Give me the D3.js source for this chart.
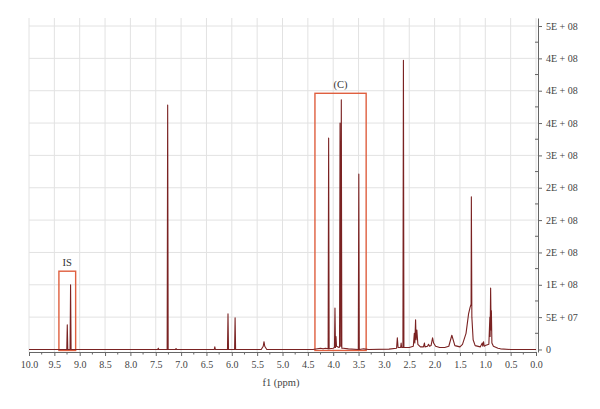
<!DOCTYPE html>
<html><head><meta charset="utf-8">
<script src="https://cdn.jsdelivr.net/npm/d3@7"></script>
<style>body{margin:0;background:#fff}svg{display:block}</style>
</head><body>
<svg id="c" width="600" height="409"></svg>
<script>
// Spectrum points: chemical shift (ppm) and intensity (x1e8)
const ppm = [10.0,9.6,9.255,9.245,9.235,9.19,9.18,9.17,8.6,8.2,7.46,7.45,7.44,7.275,7.265,7.255,7.11,7.10,7.09,6.345,6.335,6.325,6.085,6.075,6.065,5.945,5.935,5.925,5.42,5.38,5.365,5.35,5.31,4.40,4.25,4.2,4.15,4.10,4.09,4.08,4.0,3.975,3.965,3.955,3.945,3.935,3.885,3.875,3.865,3.85,3.84,3.83,3.80,3.7,3.505,3.495,3.485,3.4,3.3,2.9,2.75,2.735,2.72,2.67,2.66,2.65,2.625,2.615,2.605,2.5,2.42,2.40,2.39,2.375,2.365,2.35,2.33,2.28,2.22,2.20,2.19,2.14,2.12,2.10,2.07,2.04,2.02,1.98,1.90,1.80,1.72,1.66,1.60,1.50,1.45,1.38,1.33,1.30,1.28,1.275,1.265,1.24,1.20,1.10,1.06,1.05,1.035,1.02,1.0,0.93,0.91,0.905,0.895,0.885,0.88,0.87,0.84,0.75,0.70,0.5,0.0];
const intensity = [0,0,0,0.38,0,0,1.0,0,0,0,0,0.02,0,0,3.78,0,0,0.015,0,0,0.04,0,0,0.55,0,0,0.49,0,0,0.05,0.12,0.05,0,0,0.02,0.01,0.02,0.01,3.27,0.01,0.02,0.03,0.64,0.03,0.2,0.05,0.03,0.04,3.5,0.05,3.86,0.02,0.02,0.01,0,2.71,0,0.01,0,0.005,0.02,0.18,0.03,0.03,0.1,0.03,0.03,4.47,0.03,0.03,0.05,0.25,0.1,0.46,0.15,0.3,0.08,0.04,0.04,0.1,0.04,0.05,0.08,0.05,0.06,0.18,0.1,0.05,0.03,0.03,0.05,0.22,0.06,0.04,0.08,0.25,0.55,0.65,0.7,2.36,0.5,0.15,0.06,0.04,0.1,0.05,0.12,0.05,0.06,0.08,0.5,0.2,0.95,0.3,0.6,0.1,0.05,0.02,0.01,0,0];

const xTicks = [10.0,9.5,9.0,8.5,8.0,7.5,7.0,6.5,6.0,5.5,5.0,4.5,4.0,3.5,3.0,2.5,2.0,1.5,1.0,0.5,0.0];
const yTicks = [0,0.5,1.0,1.5,2.0,2.5,3.0,3.5,4.0,4.5,5.0];
const yTickLabels = ["0","5E + 07","1E + 08","2E + 08","2E + 08","2E + 08","3E + 08","4E + 08","4E + 08","4E + 08","5E + 08"];
const boxes = [
  {label:"IS", from:9.41, to:9.08, top:1.21},
  {label:"(C)", from:4.36, to:3.35, top:3.96}
];

const svg = d3.select("#c");
const font = "'Liberation Serif','DejaVu Serif',serif";
const x = d3.scaleLinear().domain([10,0]).range([29,536]);
const y = d3.scaleLinear().domain([-0.039,5.124]).range([352,18]);
const axX = 538;

// grid
svg.append("g").selectAll("line").data(xTicks).join("line")
  .attr("x1",d=>x(d)).attr("x2",d=>x(d)).attr("y1",18).attr("y2",352)
  .attr("stroke","#e2e2e2").attr("stroke-width",1);
svg.append("g").selectAll("line").data(yTicks.filter(d=>d>0)).join("line")
  .attr("x1",29).attr("x2",axX).attr("y1",d=>y(d)).attr("y2",d=>y(d))
  .attr("stroke","#e2e2e2").attr("stroke-width",1);

// boxes
boxes.forEach(b=>{
  svg.append("rect").attr("x",x(b.from)).attr("y",y(b.top))
    .attr("width",x(b.to)-x(b.from)).attr("height",y(0)+1-y(b.top))
    .attr("fill","none").attr("stroke","#df5f3f").attr("stroke-width",1.4);
  svg.append("text").attr("x",(x(b.from)+x(b.to))/2).attr("y",y(b.top)-5)
    .attr("text-anchor","middle").attr("font-family",font).attr("font-size",10.5)
    .attr("fill","#333").text(b.label);
});

// spectrum
const pts = ppm.map((p,i)=>[p,intensity[i]]);
svg.append("path").datum(pts)
  .attr("d",d3.line().x(d=>x(d[0])).y(d=>y(d[1])))
  .attr("fill","none").attr("stroke","#7a2222").attr("stroke-width",1.1)
  .attr("stroke-linejoin","round");

// x axis
const xa = svg.append("g").attr("transform","translate(0,352)")
  .call(d3.axisBottom(x).tickValues(xTicks).tickFormat(d3.format(".1f")).tickSize(4).tickSizeOuter(0));
xa.select(".domain").attr("stroke","#666");
xa.selectAll(".tick line").attr("stroke","#666");
xa.selectAll("text").attr("font-family",font).attr("font-size",10).attr("fill","#444").attr("dy","0.9em");
const xMinor = d3.range(0,40).map(i=>10-0.25-i*0.5).filter(v=>v>0);
svg.append("g").selectAll("line").data(xMinor).join("line")
  .attr("x1",d=>x(d)).attr("x2",d=>x(d)).attr("y1",352).attr("y2",354.5).attr("stroke","#666");

// y axis (right)
const ya = svg.append("g").attr("transform",`translate(${axX},0)`)
  .call(d3.axisRight(y).tickValues(yTicks).tickFormat((d,i)=>yTickLabels[i]).tickSize(4).tickSizeOuter(0));
ya.select(".domain").attr("stroke","#666");
ya.selectAll(".tick line").attr("stroke","#666");
ya.selectAll("text").attr("font-family",font).attr("font-size",10).attr("fill","#444").attr("x",8);
const yMinor = d3.range(0,10).map(i=>0.25+i*0.5);
svg.append("g").selectAll("line").data(yMinor).join("line")
  .attr("x1",axX-3).attr("x2",axX).attr("y1",d=>y(d)).attr("y2",d=>y(d)).attr("stroke","#666");

svg.append("text").attr("x",281).attr("y",386).attr("text-anchor","middle")
  .attr("font-family",font).attr("font-size",10.5).attr("fill","#444").text("f1 (ppm)");
</script>
</body></html>
